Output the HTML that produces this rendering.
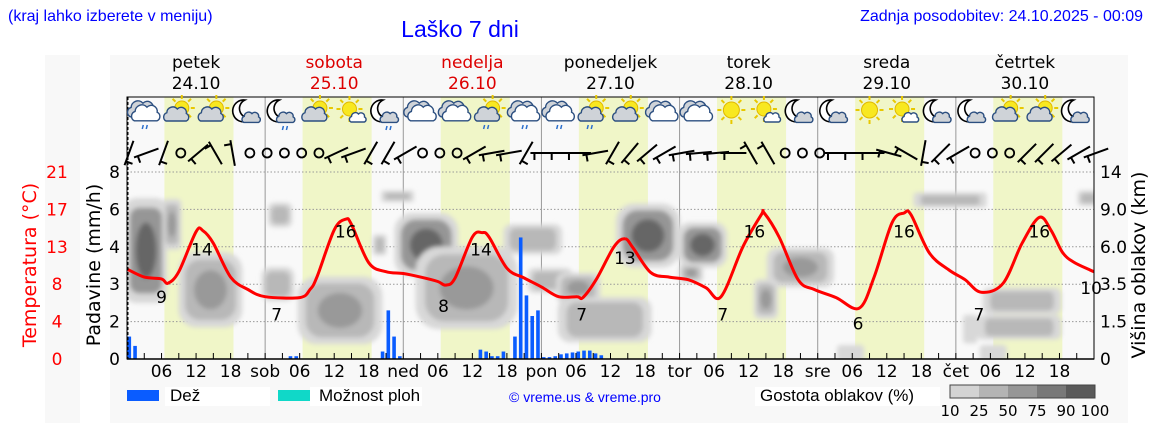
<!DOCTYPE html>
<html><head><meta charset="utf-8"><style>
body{margin:0;background:#fff;width:1152px;height:443px;overflow:hidden;font-family:"Liberation Sans",sans-serif}
svg text{font-family:"DejaVu Sans","Liberation Sans",sans-serif}
</style></head><body>
<svg id="c" width="1152" height="443" viewBox="0 0 1152 443" xmlns="http://www.w3.org/2000/svg">
<defs>
<filter id="blur" x="-50%" y="-50%" width="200%" height="200%"><feGaussianBlur stdDeviation="2.5"/></filter>
<clipPath id="plotclip"><rect x="128" y="160" width="966" height="199"/></clipPath>
</defs>
<rect x="45" y="55" width="35" height="368" fill="#f8f8f8"/>
<rect x="110" y="55" width="1018" height="368" fill="#f8f8f8"/>
<text x="8" y="21" font-size="16" fill="#0000ff" style="font-family:'Liberation Sans',sans-serif">(kraj lahko izberete v meniju)</text>
<text x="460" y="37" font-size="23" fill="#0000ff" text-anchor="middle" style="font-family:'Liberation Sans',sans-serif">Laško 7 dni</text>
<text x="1143" y="21" font-size="16" fill="#0000ff" text-anchor="end" style="font-family:'Liberation Sans',sans-serif">Zadnja posodobitev: 24.10.2025 - 00:09</text>
<g id="g"></g>
</svg>
<script>
const dayNames=["petek","sobota","nedelja","ponedeljek","torek","sreda","četrtek"];
const dayDates=["24.10","25.10","26.10","27.10","28.10","29.10","30.10"];
const dayShort=["","sob","ned","pon","tor","sre","čet"];
const tempHours=[0,3,6,7.1,9,12,13.2,15,18,21,24,30,31.8,33,36,38,39,42,45,48,51,54,55.4,57,60,61.7,62.9,66,69,72,75,78.2,79.2,81.5,84.6,86.5,87.9,91,94.2,97.5,100.6,103.2,107,110.2,110.7,113.3,116.6,119.4,123.2,127.2,129.8,132.9,135,136.2,139.4,142.8,145.6,148.4,152.2,155.5,158.5,160.5,162.5,164.4,167.3,168];
const tempValues=[10.1,9.2,9.0,8.5,9.8,14.3,14.4,13.0,9.2,7.8,7.0,6.9,7.8,9.2,14.5,15.7,15.1,10.8,9.8,9.6,9.2,8.7,8.3,9.1,13.7,14.2,13.7,10.2,9.1,8.1,7.0,7.0,6.9,8.9,12.6,13.5,12.5,9.7,9.2,8.9,8.0,7.0,12.6,16.2,16.4,13.7,8.9,7.8,6.9,5.7,9.2,15.3,16.4,16.2,11.9,10.0,8.9,7.5,8.5,13.0,15.9,14.5,12.0,10.9,10.0,9.8];
const tempLabelHours=[6,13,26,38,55,61.5,86.5,79,103.5,109,127,135,148,158.5,167.5];
const tempLabelValues=[9,14,7,16,8,14,13,7,7,16,6,16,7,16,10];
const tempLabelOffsets=[-1,1,-1,1,-1,1,1,-1,-1,1,-1,1,-1,1,-1];
const rainHours=[0,1,28,29,44,45,46,47,61,62,63,64,65,67,68,69,70,71,72,73,74,75,76,77,78,79,80,81,82];
const rainValues=[1.2,0.7,0.15,0.15,0.4,2.3,1.2,0.15,0.5,0.4,0.15,0.15,0.4,1.2,4.5,2.7,2.15,2.3,0.1,0.1,0.15,0.25,0.3,0.35,0.4,0.45,0.45,0.3,0.2];
const rainTicks=["0","2","3","4","6","8"];
const rainTickValues=[0,2,3,4,6,8];
const tempTicks=[0,4,8,13,17,21];
const cloudTicks=["0","1.5","3.5","6.0","9.0","14"];
const cloudHour=[3.3,7.8,14.5,26.6,26.2,37,43.9,47,52,59,70.5,73.5,78.4,83,90.5,100,98,111,117,143,155.5,155,167,125.7,150.5,146.5];
const cloudLevel=[2.9,3.6,1.85,3.85,2.0,1.3,3.05,4.35,3.05,1.9,3.2,2.1,1.9,1.05,3.3,3.05,2.3,1.6,2.45,4.25,1.55,0.85,4.3,0.16,0.16,0.8];
const cloudSpanH=[6.6,2.6,10.4,3.5,5,14,1.7,5,10.4,17,9.5,7,7,15.6,10.4,7.8,3.5,3.5,11,12,13,14,3,4,4,1.8];
const cloudSpanL=[2.7,1.25,1.9,0.55,0.8,1.7,0.45,0.2,1.6,2.1,0.7,0.55,0.7,1.1,1.6,1.1,0.4,0.95,0.95,0.3,0.6,0.55,0.3,0.32,0.32,0.65];
const cloudDensity=[85,60,65,30,45,60,45,45,85,50,40,40,50,35,90,80,50,55,60,35,40,45,40,20,20,20];
const iconTypes=["cr","sc","sc","m","mr","sc","ssc","mr","c","c","scr","cr","cr","scr","sc","c","c","s","ssc","mc","mc","s","ssc","mc","mc","sc","sc","mc"];
const windAngles=[-70,-20,-70,null,-40,60,80,null,null,null,null,null,-25,-20,-60,-60,-30,null,null,null,-30,-10,-10,-60,0,0,0,-10,-60,-50,-40,-30,-10,-5,-5,0,60,60,null,null,null,0,0,0,15,30,-80,-45,-30,null,null,null,-45,-45,-40,-30,-20];
const densLevels=[10,25,50,75,90,100];
const densColors=["#d3d3d3","#b4b4b4","#969696","#787878","#5a5a5a"];

const NS="http://www.w3.org/2000/svg";
const G=document.getElementById('g');
const X0=127,X1=1094,Y0=359,YT=97,HPX=(X1-X0)/168,UNIT=37.4;
const xH=h=>X0+h*HPX;
const yT=t=>Y0-t*(UNIT*5/21);
const yR=v=>{for(let i=0;i<rainTickValues.length-1;i++){if(v<=rainTickValues[i+1]){return Y0-(i+(v-rainTickValues[i])/(rainTickValues[i+1]-rainTickValues[i]))*UNIT;}}return Y0-5*UNIT;};
const yU=u=>Y0-u*UNIT;
function mk(tag,at,parent){const e=document.createElementNS(NS,tag);for(const k in at)e.setAttribute(k,at[k]);(parent||G).appendChild(e);return e;}
function txt(x,y,s,at,parent){const e=mk('text',Object.assign({x:x,y:y},at),parent);e.textContent=s;return e;}
function densColor(d){let c=densColors[0];for(let i=0;i<5;i++){if(d>=densLevels[i])c=densColors[i];}return c;}

const bg=mk('rect',{x:X0,y:YT,width:X1-X0,height:Y0-YT,fill:'#f9f9f9'});


for(let d=0;d<7;d++){const r=mk('rect',{x:xH(d*24+6.5),y:YT,width:12*HPX,height:Y0-YT,fill:'#f0f6c8'});

}
for(let i=1;i<=5;i++){const l=mk('line',{x1:X0,x2:X1,y1:yU(i),y2:yU(i),stroke:'#999','stroke-dasharray':'1.5,2','stroke-width':1});

}
for(let d=1;d<7;d++){const l=mk('line',{x1:xH(d*24),x2:xH(d*24),y1:YT,y2:Y0,stroke:'#999','stroke-width':1});

}
const cg=mk('g',{'clip-path':'url(#plotclip)'});
const cg2=mk('g',{filter:'url(#blur)'},cg);
for(let i=0;i<cloudHour.length;i++){
 const cx=xH(cloudHour[i]),cy=yU(cloudLevel[i]),rx=cloudSpanH[i]*HPX/2,ry=cloudSpanL[i]*UNIT/2;
 const o=mk('rect',{x:cx-rx-2,y:cy-ry-2,width:2*rx+4,height:2*ry+4,rx:Math.min(rx,ry)*0.6,fill:'#d8d8d8'},cg2);
 
 
 if(cloudDensity[i]>=25){const n=mk('rect',{x:cx-rx*0.85,y:cy-ry*0.85,width:1.7*rx,height:1.7*ry,rx:Math.min(rx,ry)*0.5,fill:cloudDensity[i]>=75?'#969696':'#b8b8b8'},cg2);
 
 }
 if(cloudDensity[i]>=50){const n=mk('ellipse',{cx:cx,cy:cy,rx:rx*0.55,ry:ry*0.55,fill:cloudDensity[i]>=75?'#666':'#999'},cg2);
 
 }
}
for(let i=0;i<rainHours.length;i++){const y=yR(rainValues[i]);
 const b=mk('rect',{x:xH(rainHours[i])+0.5,y:y,width:3.6,height:Y0-y,fill:'#0a5cff'});
 
 }
// smoothed temperature line (Catmull-Rom)
const P=tempHours.map((h,i)=>[xH(h),yT(tempValues[i])]);
let d='M'+P[0][0].toFixed(1)+','+P[0][1].toFixed(1);
for(let i=0;i<P.length-1;i++){const p0=P[Math.max(0,i-1)],p1=P[i],p2=P[i+1],p3=P[Math.min(P.length-1,i+2)];
 const c1=[p1[0]+(p2[0]-p0[0])/6,p1[1]+(p2[1]-p0[1])/6],c2=[p2[0]-(p3[0]-p1[0])/6,p2[1]-(p3[1]-p1[1])/6];
 d+=`C${c1[0].toFixed(1)},${c1[1].toFixed(1)} ${c2[0].toFixed(1)},${c2[1].toFixed(1)} ${p2[0].toFixed(1)},${p2[1].toFixed(1)}`;}
const tl=mk('path',{d:d,fill:'none',stroke:'#ff0000','stroke-width':3,'stroke-linejoin':'round'});


for(let i=0;i<tempLabelHours.length;i++){const v=tempLabelValues[i];const y=yT(v)+(tempLabelOffsets[i]>0?21:24);
 const t=txt(xH(tempLabelHours[i]),y,String(v),{'font-size':17,'text-anchor':'middle',fill:'#000'});
 
 }
const fr=mk('rect',{x:X0,y:YT,width:X1-X0,height:Y0-YT,fill:'none',stroke:'#000','stroke-width':1});


mk('line',{x1:X0+1,x2:X0+1,y1:YT,y2:Y0,stroke:'#000','stroke-dasharray':'3,2'});
mk('line',{x1:X0,x2:X1,y1:Y0,y2:Y0,stroke:'#000','stroke-width':1.5});
for(let h=3;h<168;h+=3){mk('line',{x1:xH(h),x2:xH(h),y1:Y0,y2:Y0-6,stroke:'#000'});}
for(let dd=0;dd<7;dd++){for(const hh of [0,6,12,18]){const lab=hh===0?dayShort[dd]:String(hh).padStart(2,'0');if(!lab)continue;
 const t=txt(xH(dd*24+hh),377,lab,{'font-size':17,'text-anchor':'middle',fill:'#000'});
 
 }}
for(let dd=0;dd<7;dd++){const col=(dd===1||dd===2)?'#dd0000':'#000';const cx=xH(dd*24+12);
 const a=txt(cx,68,dayNames[dd],{'font-size':17,'text-anchor':'middle',fill:col});
 
 
 const b=txt(cx,89,dayDates[dd],{'font-size':17,'text-anchor':'middle',fill:col});
 
 }
for(let i=0;i<6;i++){const y=yU(i)+6;
 const a=txt(120,y,rainTicks[i],{'font-size':17,'text-anchor':'end',fill:'#000'});
 
 
 const b=txt(57,y,String(tempTicks[i]),{'font-size':17,'text-anchor':'middle',fill:'#ff0000'});
 
 
 const c=txt(1100,y,cloudTicks[i],{'font-size':17,'text-anchor':'start',fill:'#000'});
 
 }
const at=txt(0,0,'Temperatura (°C)',{'font-size':19,'text-anchor':'middle',fill:'#ff0000',transform:'translate(36,265) rotate(-90)'});


const ap=txt(0,0,'Padavine (mm/h)',{'font-size':19,'text-anchor':'middle',fill:'#000',transform:'translate(100,265) rotate(-90)'});


const ac=txt(0,0,'Višina oblakov (km)',{'font-size':19,'text-anchor':'middle',fill:'#000',transform:'translate(1145,265) rotate(-90)'});


for(let i=0;i<windAngles.length;i++){const x=xH(i*3)+2,y=153;const a=windAngles[i];
 if(a===null){const c=mk('circle',{cx:x,cy:y,r:4.5,fill:'none',stroke:'#000','stroke-width':1.8});
  
  continue;}
 const g=mk('g',{transform:`translate(${x},${y}) rotate(${a})`});
 
 
 mk('line',{x1:-13,y1:0,x2:13,y2:0,stroke:'#000','stroke-width':2},g);
 mk('line',{x1:-9,y1:0,x2:-9,y2:7,stroke:'#000','stroke-width':2},g);}
function cloudShape(g,cx,cy,s,fill){mk('path',{d:`M${cx-13*s},${cy+8*s} a${6*s} ${6*s} 0 0 1 ${1*s},${-11*s} a${8*s} ${8*s} 0 0 1 ${14*s},${-5*s} a${7*s} ${7*s} 0 0 1 ${12*s},${6*s} a${5.5*s} ${5.5*s} 0 0 1 0,${10*s} z`,fill:fill,stroke:'#2c4f80','stroke-width':1.4},g);}
function sun(g,cx,cy,r){for(let k=0;k<8;k++){const an=k*Math.PI/4;mk('line',{x1:cx+Math.cos(an)*(r+2),y1:cy+Math.sin(an)*(r+2),x2:cx+Math.cos(an)*(r+6),y2:cy+Math.sin(an)*(r+6),stroke:'#e8c800','stroke-width':2},g);}
 mk('circle',{cx:cx,cy:cy,r:r,fill:'#f8e820',stroke:'#e0b800','stroke-width':1},g);}
function moon(g,cx,cy){mk('path',{d:`M${cx+2},${cy-12} a11 11 0 1 0 8,17 a9 9 0 0 1 -8,-17 z`,fill:'#fff',stroke:'#000','stroke-width':1.6},g);}
function rain(g,cx,cy){for(const dx of [-2,2])mk('line',{x1:cx+dx+1,y1:cy,x2:cx+dx,y2:cy+4,stroke:'#2c6fcc','stroke-width':1.5},g);}
for(let i=0;i<iconTypes.length;i++){const cx=xH(3+i*6),cy=112,t=iconTypes[i];
 const g=mk('g',{});
 
 
 if(t==='c'||t==='cr'){cloudShape(g,cx-3,cy-2,0.85,'#cfd3d8');cloudShape(g,cx+1,cy+2,0.85,'#fff');if(t==='cr')rain(g,cx,cy+13);}
 else if(t==='sc'||t==='scr'){sun(g,cx+3,cy-4,7);cloudShape(g,cx-3,cy+3,0.75,'#cfd3d8');if(t==='scr')rain(g,cx-4,cy+13);}
 else if(t==='ssc'){sun(g,cx-2,cy-3,7);cloudShape(g,cx+6,cy+6,0.5,'#fff');}
 else if(t==='s'){sun(g,cx,cy-2,8);}
 else{moon(g,cx-5,cy);cloudShape(g,cx+3,cy+6,0.55,'#cfd3d8');if(t==='mr')rain(g,cx+2,cy+14);}
}
mk('rect',{x:165,y:387,width:105,height:19,fill:'#fff'});
mk('rect',{x:310,y:387,width:112,height:19,fill:'#fff'});
mk('rect',{x:755,y:387,width:185,height:19,fill:'#fff'});
const l1=mk('rect',{x:127,y:390,width:32,height:11,fill:'#0a5cff'});


const l1t=txt(170,401,'Dež',{'font-size':17,fill:'#000',style:"font-family:'Liberation Sans',sans-serif"});


const l2=mk('rect',{x:278,y:390,width:32,height:11,fill:'#10d8c8'});


const l2t=txt(319,401,'Možnost ploh',{'font-size':17,fill:'#000',style:"font-family:'Liberation Sans',sans-serif"});


const cp=txt(585,402,'© vreme.us & vreme.pro',{'font-size':14,fill:'#0000ff','text-anchor':'middle',style:"font-family:'Liberation Sans',sans-serif"});


const gt=txt(760,401,'Gostota oblakov (%)',{'font-size':17,fill:'#000',style:"font-family:'Liberation Sans',sans-serif"});


for(let i=0;i<5;i++){const r=mk('rect',{x:950+i*29,y:385,width:29,height:13,fill:densColors[i]});
 
 }
mk('rect',{x:950,y:385,width:145,height:13,fill:'none',stroke:'#444'});
for(let i=0;i<6;i++){const t=txt(950+i*29,416,String(densLevels[i]),{'font-size':15,'text-anchor':'middle',fill:'#000'});
 
 }
</script>
</body></html>
